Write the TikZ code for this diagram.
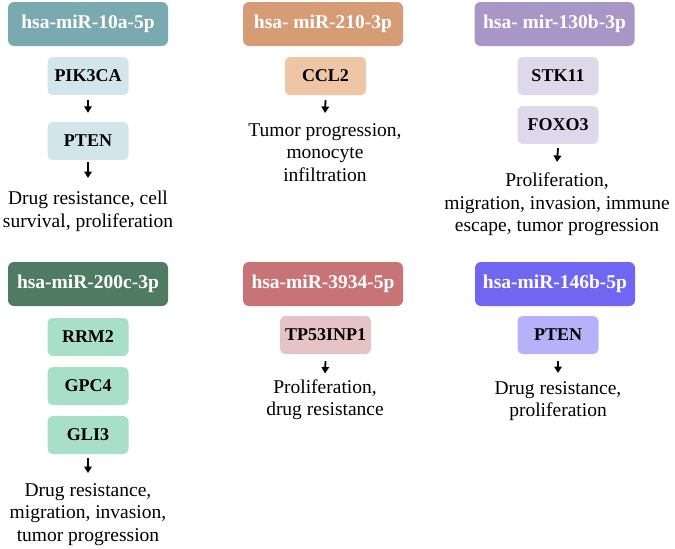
\documentclass[tikz,border=0pt]{standalone}
\usepackage{fontspec}
\setmainfont{Liberation Serif}
\usetikzlibrary{arrows.meta}
\definecolor{hA}{HTML}{7AA9AF}\definecolor{bA}{HTML}{D2E5EA}
\definecolor{hB}{HTML}{D69C76}\definecolor{bB}{HTML}{EEC5A5}
\definecolor{hC}{HTML}{A896C6}\definecolor{bC}{HTML}{DDD9EA}
\definecolor{hD}{HTML}{4E7B62}\definecolor{bD}{HTML}{A9DFC8}
\definecolor{hE}{HTML}{C87375}\definecolor{bE}{HTML}{E6C3C5}
\definecolor{hF}{HTML}{7066F2}\definecolor{bF}{HTML}{B6B2FA}
\begin{document}
\begin{tikzpicture}[x=1pt,y=-1pt,
  hdr/.style={rounded corners=6pt,minimum width=160pt,minimum height=44pt,inner sep=0pt,
    text=white,font=\fontsize{19.5}{22}\selectfont\bfseries},
  gbox/.style={rounded corners=5pt,minimum width=81pt,minimum height=38pt,inner sep=0pt,
    font=\fontsize{18}{20}\selectfont\bfseries},
  outtxt/.style={anchor=north,align=center,inner sep=0pt,font=\fontsize{19.5}{22.5}\selectfont},
  arr/.style={-{Triangle[length=6.5pt,width=7.5pt]},line width=1.8pt}]
\useasboundingbox (0,0) rectangle (675,549);
% column 1 row 1
\node[hdr,fill=hA] (h1) at (88,24) {hsa-miR-10a-5p};
\node[gbox,fill=bA] (pik) at (88,76) {PIK3CA};
\node[gbox,fill=bA] (pten1) at (88,141) {PTEN};
\node[outtxt] (t1) at (88,191) {Drug resistance, cell\\survival, proliferation};
\draw[arr] ([yshift=-5pt]pik.south) -- ([yshift=9pt]pten1.north);
\draw[arr] ([yshift=-2pt]pten1.south) -- ([yshift=13pt]t1.north);
% column 2 row 1
\node[hdr,fill=hB] (h2) at (323,24) {hsa- miR-210-3p};
\node[gbox,fill=bB] (ccl) at (325.5,76) {CCL2};
\node[outtxt] (t2) at (325,123) {Tumor progression,\\monocyte\\infiltration};
\draw[arr] ([yshift=-5pt]ccl.south) -- ([yshift=10pt]t2.north);
% column 3 row 1
\node[hdr,fill=hC] (h3) at (554.5,24) {hsa- mir-130b-3p};
\node[gbox,fill=bC] (stk) at (558,76) {STK11};
\node[gbox,fill=bC] (foxo) at (558,125) {FOXO3};
\node[outtxt] (t3) at (557,173) {Proliferation,\\migration, invasion, immune\\escape, tumor progression};
\draw[arr] ([yshift=-4pt]foxo.south) -- ([yshift=11pt]t3.north);
% column 1 row 2
\node[hdr,fill=hD] (h4) at (88,284) {hsa-miR-200c-3p};
\node[gbox,fill=bD] (rrm) at (88,337) {RRM2};
\node[gbox,fill=bD] (gpc) at (88,386) {GPC4};
\node[gbox,fill=bD] (gli) at (88,435) {GLI3};
\node[outtxt] (t4) at (88,483) {Drug resistance,\\migration, invasion,\\tumor progression};
\draw[arr] ([yshift=-4pt]gli.south) -- ([yshift=10pt]t4.north);
% column 2 row 2
\node[hdr,fill=hE] (h5) at (323,284) {hsa-miR-3934-5p};
\node[gbox,fill=bE,minimum width=91pt] (tp) at (325.5,335) {TP53INP1};
\node[outtxt] (t5) at (325,379.5) {Proliferation,\\drug resistance};
\draw[arr] ([yshift=-7pt]tp.south) -- ([yshift=6pt]t5.north);
% column 3 row 2
\node[hdr,fill=hF] (h6) at (555,284) {hsa-miR-146b-5p};
\node[gbox,fill=bF] (pten2) at (558,335) {PTEN};
\node[outtxt] (t6) at (558,381) {Drug resistance,\\proliferation};
\draw[arr] ([yshift=-7pt]pten2.south) -- ([yshift=8pt]t6.north);
\end{tikzpicture}
\end{document}
